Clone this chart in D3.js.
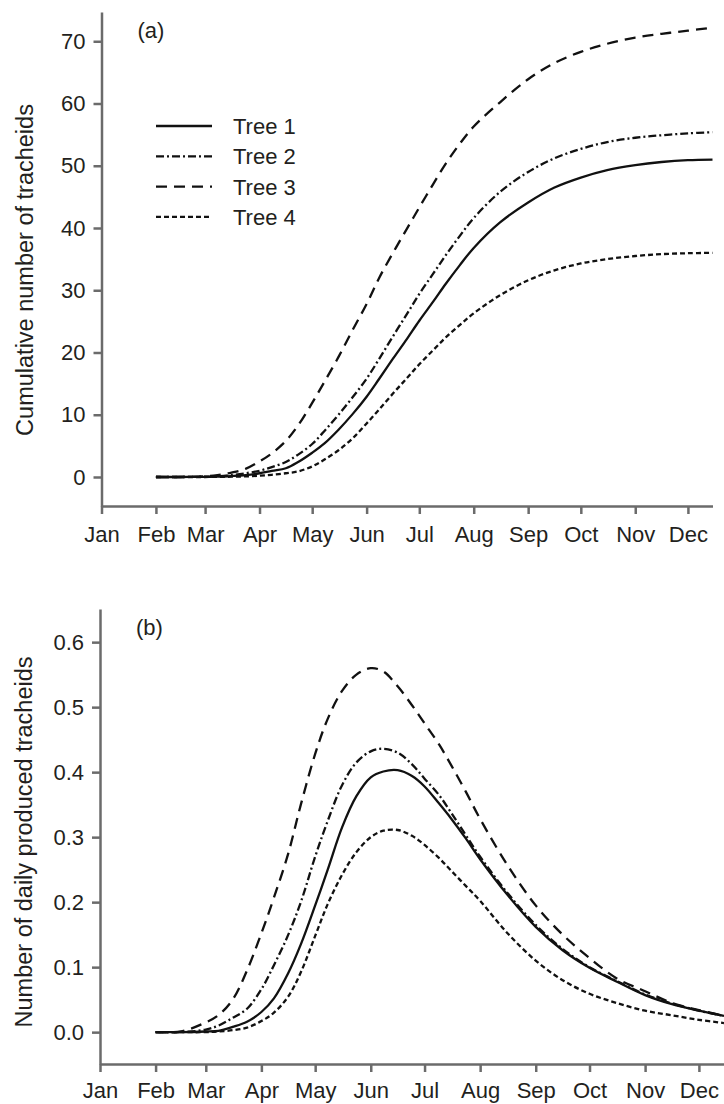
<!DOCTYPE html>
<html>
<head>
<meta charset="utf-8">
<script src="https://cdnjs.cloudflare.com/ajax/libs/d3/7.8.5/d3.min.js"></script>
<style>
body { margin: 0; background: #fff; }
svg { display: block; font-family: "Liberation Sans", Arial, sans-serif; }
.axis path, .axis line { stroke: #6b6b6b; stroke-width: 2.5; }
.axis text { font-size: 22px; fill: #231f20; font-family: "Liberation Sans", Arial, sans-serif; }
.curve { fill: none; stroke: #111; stroke-width: 2.3; }
.label { font-size: 22px; fill: #231f20; }
.titolo { font-size: 23.5px; fill: #231f20; }
</style>
</head>
<body>
<svg width="724" height="1104"></svg>
<script>
var months = ["Jan", "Feb", "Mar", "Apr", "May", "Jun", "Jul", "Aug", "Sep", "Oct", "Nov", "Dec"];
var monthStart = [0, 31, 59, 90, 120, 151, 181, 212, 243, 273, 304, 334];

var trees = ["Tree 1", "Tree 2", "Tree 3", "Tree 4"];

// day of year of every sample
var days = [31, 45, 59, 66, 74, 82, 90, 97, 105, 112, 120, 127, 135, 143, 151, 158,
            166, 174, 181, 189, 196, 204, 212, 227, 243, 258, 273, 288, 304, 319, 334, 348];

// (a) cumulative number of tracheids
var cumTree1 = [0, 0, 0.02, 0.05, 0.15, 0.3, 0.6, 1.0, 1.4, 2.4, 3.9, 5.4, 7.6, 10.1, 12.9, 15.7,
                19.0, 22.2, 25.1, 28.2, 31.0, 34.0, 36.8, 40.9, 44.1, 46.5, 48.1, 49.3, 50.1, 50.6, 50.9, 51.0];
var cumTree2 = [0, 0, 0.05, 0.1, 0.3, 0.6, 1.0, 1.6, 2.4, 3.6, 5.3, 7.4, 10.0, 12.8, 15.8, 18.9,
                22.6, 26.2, 29.4, 32.7, 35.6, 38.7, 41.6, 45.8, 49.0, 51.2, 52.7, 53.8, 54.5, 54.9, 55.2, 55.4];
var cumTree3 = [0, 0, 0.1, 0.3, 0.7, 1.3, 2.5, 3.8, 5.8, 8.3, 11.9, 15.3, 19.3, 23.6, 27.8, 31.9,
                36.0, 39.9, 43.3, 47.1, 50.3, 53.5, 56.3, 60.2, 63.9, 66.5, 68.3, 69.6, 70.6, 71.2, 71.7, 72.2];
var cumTree4 = [0, 0, 0, 0.02, 0.05, 0.1, 0.2, 0.35, 0.6, 0.9, 1.7, 2.8, 4.3, 6.2, 8.6, 10.8,
                13.4, 15.9, 18.1, 20.4, 22.4, 24.4, 26.3, 29.2, 31.6, 33.2, 34.3, 35.0, 35.5, 35.8, 35.95, 36.0];

// (b) number of daily produced tracheids
var dayTree1 = [0, 0, 0.001, 0.002, 0.008, 0.016, 0.031, 0.052, 0.091, 0.135, 0.195, 0.25, 0.315, 0.363, 0.392, 0.401,
                0.403, 0.394, 0.378, 0.352, 0.328, 0.298, 0.266, 0.212, 0.162, 0.126, 0.099, 0.078, 0.057, 0.043, 0.033, 0.025];
var dayTree2 = [0, 0, 0.004, 0.01, 0.022, 0.036, 0.066, 0.103, 0.15, 0.2, 0.27, 0.325, 0.38, 0.415, 0.432, 0.436,
                0.43, 0.412, 0.39, 0.365, 0.337, 0.303, 0.27, 0.215, 0.165, 0.128, 0.1, 0.079, 0.058, 0.044, 0.033, 0.025];
var dayTree3 = [0, 0.001, 0.015, 0.026, 0.05, 0.095, 0.152, 0.207, 0.275, 0.35, 0.428, 0.482, 0.525, 0.55, 0.56, 0.555,
                0.532, 0.503, 0.475, 0.443, 0.41, 0.37, 0.328, 0.258, 0.195, 0.15, 0.114, 0.083, 0.063, 0.045, 0.034, 0.025];
var dayTree4 = [0, 0, 0, 0.001, 0.003, 0.007, 0.017, 0.03, 0.055, 0.092, 0.148, 0.197, 0.242, 0.277, 0.3, 0.31,
                0.311, 0.302, 0.288, 0.268, 0.248, 0.225, 0.202, 0.153, 0.11, 0.08, 0.059, 0.045, 0.033, 0.026, 0.019, 0.014];

var cumTicks = [0, 10, 20, 30, 40, 50, 60, 70];
var dailyTicks = [0, 0.1, 0.2, 0.3, 0.4, 0.5, 0.6];

// line style of each tree
var dashes = ["none", "8,3,2,3", "11,7", "5,3"];

var svg = d3.select("svg");

var line = function(x, y){
  return d3.line()
    .x(function(d){ return x(d[0]); })
    .y(function(d){ return y(d[1]); })
    .curve(d3.curveCatmullRom.alpha(0.5));
};

function drawPanel(p){
  var x = d3.scaleLinear().domain([0, 348]).range(p.xRange);
  var y = d3.scaleLinear().domain(p.yDomain).range(p.yRange);

  svg.append("g")
     .attr("class", "axis")
     .attr("transform", "translate(0," + p.yRange[0] + ")")
     .call(d3.axisBottom(x)
             .tickValues(monthStart)
             .tickSize(8)
             .tickSizeOuter(0)
             .tickPadding(p.xPad)
             .tickFormat(function(d, i){ return months[i]; }));

  svg.append("g")
     .attr("class", "axis")
     .attr("transform", "translate(" + p.xRange[0] + ",0)")
     .call(d3.axisLeft(y)
             .tickValues(p.ticks)
             .tickSize(8)
             .tickSizeOuter(0)
             .tickPadding(8)
             .tickFormat(p.format));

  p.series.forEach(function(s, i){
    svg.append("path")
       .datum(days.map(function(d, j){ return [d, s[j]]; }))
       .attr("class", "curve")
       .attr("stroke-dasharray", dashes[i])
       .attr("d", line(x, y));
  });

  svg.append("text")
     .attr("class", "titolo")
     .attr("text-anchor", "middle")
     .attr("transform", "translate(" + p.titleX + "," + p.titleY + ") rotate(-90)")
     .text(p.title);

  svg.append("text")
     .attr("class", "label")
     .attr("x", p.xRange[0] + 36)
     .attr("y", p.yRange[1] + 26)
     .text(p.tag);
}

drawPanel({
  xRange: [101.5, 712.5], yDomain: [-4.66, 74.7], yRange: [506, 12],
  ticks: cumTicks, format: d3.format("d"), xPad: 12,
  series: [cumTree1, cumTree2, cumTree3, cumTree4],
  title: "Cumulative number of tracheids", titleX: 33, titleY: 270, tag: "(a)"
});

drawPanel({
  xRange: [100, 724], yDomain: [-0.049, 0.651], yRange: [1064, 609],
  ticks: dailyTicks, format: d3.format(".1f"), xPad: 10,
  series: [dayTree1, dayTree2, dayTree3, dayTree4],
  title: "Number of daily produced tracheids", titleX: 32, titleY: 842, tag: "(b)"
});

// legend of panel (a)
var legend = svg.append("g").attr("transform", "translate(156,126)");
trees.forEach(function(t, i){
  legend.append("line")
        .attr("class", "curve")
        .attr("x1", 0).attr("x2", 56)
        .attr("y1", i * 30.3).attr("y2", i * 30.3)
        .attr("stroke-dasharray", dashes[i]);
  legend.append("text")
        .attr("class", "label")
        .attr("x", 77)
        .attr("y", i * 30.3 + 8)
        .text(t);
});
</script>
</body>
</html>
